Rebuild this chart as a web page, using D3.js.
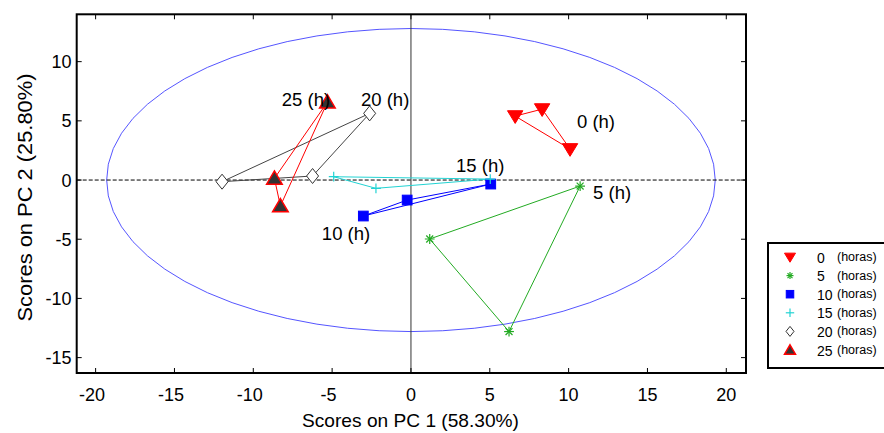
<!DOCTYPE html>
<html><head><meta charset="utf-8">
<script src="https://cdn.jsdelivr.net/npm/d3@7"></script>
<style>
html,body{margin:0;padding:0;background:#fff;}
svg{display:block;font-family:"Liberation Sans",Arial,sans-serif;}
</style></head>
<body><svg id="c" width="884" height="433"></svg>
<script>
// ---- data ----
const groups = ["0", "5", "10", "15", "20", "25"];
const pc1_0  = [6.61, 8.32, 10.09];
const pc2_0  = [5.40, 5.99, 2.62];
const pc1_5  = [10.73, 1.19, 6.22];
const pc2_5  = [-0.51, -4.98, -12.80];
const pc1_10 = [-3.02, -0.24, 5.06];
const pc2_10 = [-3.04, -1.69, -0.34];
const pc1_15 = [-4.90, -2.22, 5.03];
const pc2_15 = [0.28, -0.70, 0.08];
const pc1_20 = [-11.98, -6.24, -2.62];
const pc2_20 = [-0.14, 0.34, 5.63];
const pc1_25 = [-5.30, -8.66, -8.28];
const pc2_25 = [6.58, 0.14, -2.19];
const xTicks = [-20, -15, -10, -5, 0, 5, 10, 15, 20];
const yTicks = [-15, -10, -5, 0, 5, 10];
const labelText = ["0 (h)", "5 (h)", "10 (h)", "15 (h)", "20 (h)", "25 (h)"];
const labelX = [10.53, 11.55, -5.65, 2.86, -3.17, -8.19];
const labelY = [4.39, -1.60, -5.07, 0.68, 6.25, 6.25];
const ellipseR = [19.3, 12.8]; // confidence ellipse semi-axes (PC1, PC2)

// ---- layout ----
const svg = d3.select("#c");
const x = d3.scaleLinear().domain([-21.2, 21.25]).range([76.7, 746]);
const y = d3.scaleLinear().domain([-16.3, 14]).range([373, 14.3]);
const X0 = 76.7, X1 = 746, Y0 = 14.3, Y1 = 373;

const styles = {
  "0":  {line:"#ff0000"},
  "5":  {line:"#22aa22"},
  "10": {line:"#0000ff"},
  "15": {line:"#22d3d3"},
  "20": {line:"#444444"},
  "25": {line:"#ff0000"}
};
const dataX = [pc1_0, pc1_5, pc1_10, pc1_15, pc1_20, pc1_25];
const dataY = [pc2_0, pc2_5, pc2_10, pc2_15, pc2_20, pc2_25];

// clip
svg.append("defs").append("clipPath").attr("id","clip")
  .append("rect").attr("x",X0).attr("y",Y0).attr("width",X1-X0).attr("height",Y1-Y0);
const plot = svg.append("g").attr("clip-path","url(#clip)");

// ellipse
const ang = d3.range(0, 361, 6).map(a => a*Math.PI/180);
plot.append("path")
  .attr("d", d3.line().x(a => x(ellipseR[0]*Math.cos(a))).y(a => y(ellipseR[1]*Math.sin(a)))(ang))
  .attr("fill","none").attr("stroke","#5555ff").attr("stroke-width",1);

// zero lines
plot.append("line").attr("x1",X0).attr("x2",X1).attr("y1",y(0)).attr("y2",y(0))
  .attr("stroke","#000").attr("stroke-width",1).attr("stroke-dasharray","4,2");
plot.append("line").attr("x1",x(0)).attr("x2",x(0)).attr("y1",Y0).attr("y2",Y1)
  .attr("stroke","#333").attr("stroke-width",1);

// group polygons
groups.forEach((g,i) => {
  const pts = dataX[i].map((v,j) => [x(v), y(dataY[i][j])]);
  plot.append("path").attr("d", d3.line()([...pts, pts[0]]))
    .attr("fill","none").attr("stroke", styles[g].line).attr("stroke-width",1);
});

// markers
function marker(sel, g, cx, cy, s) {
  const gg = sel.append("g").attr("transform",`translate(${cx},${cy})`);
  if (g === "0") {
    gg.append("path").attr("d",`M${-s},${-s*0.7}L${s},${-s*0.7}L0,${s*0.95}Z`).attr("fill","#ff0000").attr("stroke","#ff0000");
  } else if (g === "5") {
    const r = s*0.7;
    [0,45,90,135].forEach(a => {
      const c = Math.cos(a*Math.PI/180)*r, d = Math.sin(a*Math.PI/180)*r;
      gg.append("line").attr("x1",-c).attr("y1",-d).attr("x2",c).attr("y2",d).attr("stroke","#22aa22").attr("stroke-width",1.2);
    });
  } else if (g === "10") {
    gg.append("rect").attr("x",-s*0.75).attr("y",-s*0.75).attr("width",s*1.5).attr("height",s*1.5).attr("fill","#0000ff").attr("stroke","#0000ff");
  } else if (g === "15") {
    const r = s*0.7;
    gg.append("line").attr("x1",-r).attr("x2",r).attr("stroke","#22d3d3").attr("stroke-width",1.2);
    gg.append("line").attr("y1",-r).attr("y2",r).attr("stroke","#22d3d3").attr("stroke-width",1.2);
  } else if (g === "20") {
    gg.append("path").attr("d",`M0,${-s}L${s*0.8},0L0,${s}L${-s*0.8},0Z`).attr("fill","#fff").attr("stroke","#333").attr("stroke-width",1);
  } else if (g === "25") {
    gg.append("path").attr("d",`M0,${-s*0.95}L${s},${s*0.75}L${-s},${s*0.75}Z`).attr("fill","#333").attr("stroke","#ff0000").attr("stroke-width",1.5);
  }
}
const msize = {"0":7.7, "5":7, "10":6.5, "15":7, "20":7.5, "25":7.8};
groups.forEach((g,i) => {
  dataX[i].forEach((v,j) => marker(plot, g, x(v), y(dataY[i][j]), msize[g]));
});

// group labels
labelText.forEach((t,i) => {
  svg.append("text").attr("x", x(labelX[i])).attr("y", y(labelY[i]))
    .attr("font-size", 18.5).attr("fill","#000").text(t);
});

// axes box and ticks
svg.append("rect").attr("x",X0).attr("y",Y0).attr("width",X1-X0).attr("height",Y1-Y0)
  .attr("fill","none").attr("stroke","#000").attr("stroke-width",2);
const tl = 5;
xTicks.forEach(v => {
  svg.append("line").attr("x1",x(v)).attr("x2",x(v)).attr("y1",Y1).attr("y2",Y1-tl).attr("stroke","#000");
  svg.append("line").attr("x1",x(v)).attr("x2",x(v)).attr("y1",Y0).attr("y2",Y0+tl).attr("stroke","#000");
  svg.append("text").attr("x",x(v)).attr("dx", v < 0 ? -3.5 : 0).attr("y",401).attr("text-anchor","middle").attr("font-size",18).text(v);
});
yTicks.forEach(v => {
  svg.append("line").attr("x1",X0).attr("x2",X0+tl).attr("y1",y(v)).attr("y2",y(v)).attr("stroke","#000");
  svg.append("line").attr("x1",X1).attr("x2",X1-tl).attr("y1",y(v)).attr("y2",y(v)).attr("stroke","#000");
  svg.append("text").attr("x",71.5).attr("y",y(v)+6.5).attr("text-anchor","end").attr("font-size",18).text(v);
});

// axis titles
svg.append("text").attr("x", 410.5).attr("y", 426.5).attr("text-anchor","middle").attr("font-size",19)
  .attr("textLength",217).attr("lengthAdjust","spacingAndGlyphs")
  .text("Scores on PC 1 (58.30%)");
svg.append("text").attr("transform","translate(32,197.5) rotate(-90)").attr("text-anchor","middle").attr("font-size",20)
  .attr("textLength",248).attr("lengthAdjust","spacingAndGlyphs")
  .text("Scores on PC 2 (25.80%)");

// legend
const lg = svg.append("g");
lg.append("rect").attr("x",768).attr("y",243).attr("width",130).attr("height",125)
  .attr("fill","#fff").attr("stroke","#000").attr("stroke-width",2);
const lsize = {"0":5.5, "5":5, "10":5, "15":6, "20":5, "25":5.5};
groups.forEach((g,i) => {
  const ry = 257 + i*18.6;
  marker(lg, g, 790, ry, lsize[g]);
  lg.append("text").attr("x",817).attr("y",ry+5.5).attr("font-size",14).text(g);
  lg.append("text").attr("x",837).attr("y",ry+4).attr("font-size",12.5).text("(horas)");
});
</script></body></html>
